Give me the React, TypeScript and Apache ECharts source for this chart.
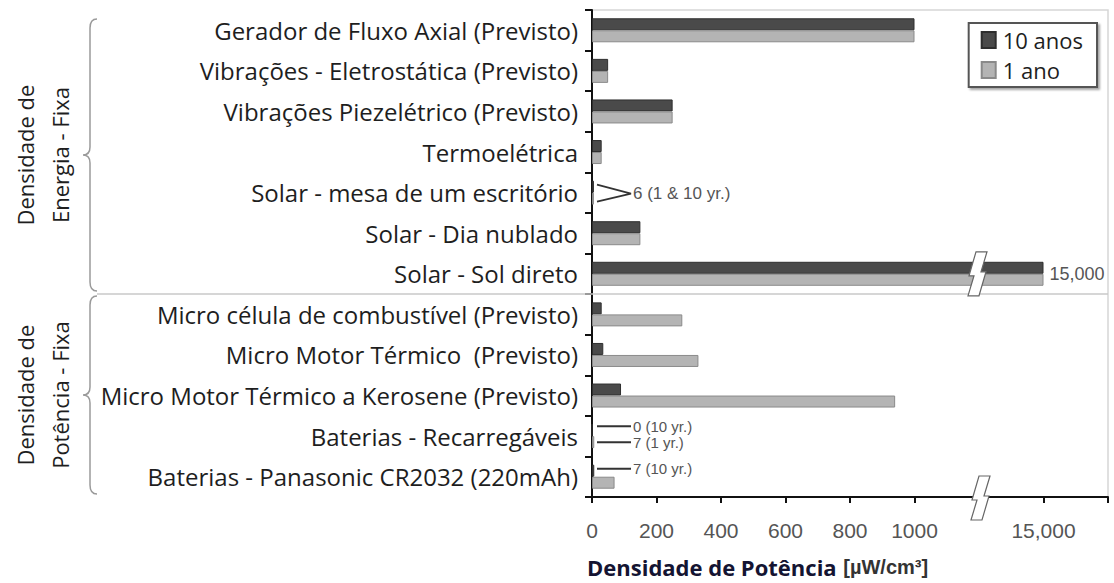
import React, { useEffect, useRef } from "react";
import * as echarts from "echarts";

const categories = [
  "Gerador de Fluxo Axial (Previsto)",
  "Vibrações - Eletrostática (Previsto)",
  "Vibrações Piezelétrico (Previsto)",
  "Termoelétrica",
  "Solar - mesa de um escritório",
  "Solar - Dia nublado",
  "Solar - Sol direto",
  "Micro célula de combustível (Previsto)",
  "Micro Motor Térmico  (Previsto)",
  "Micro Motor Térmico a Kerosene (Previsto)",
  "Baterias - Recarregáveis",
  "Baterias - Panasonic CR2032 (220mAh)",
];
const seriesNames = ["10 anos", "1 ano"];
const tenYears = [1000, 50, 250, 30, 6, 150, 15000, 30, 35, 90, 0, 7];
const oneYear = [1000, 50, 250, 30, 6, 150, 15000, 280, 330, 940, 7, 70];
const tickLabels: Record<number, string> = {
  0: "0", 200: "200", 400: "400", 600: "600", 800: "800", 1000: "1000", 1400: "15,000",
};
const groupLabels = ["Densidade de\nEnergia - Fixa", "Densidade de\nPotência - Fixa"];
const annotations = [
  { cat: 4, kind: "chevron", off: 0, text: "6 (1 & 10 yr.)" },
  { cat: 10, kind: "line", off: -10, text: "0 (10 yr.)" },
  { cat: 10, kind: "line", off: 6, text: "7 (1 yr.)" },
  { cat: 11, kind: "line", off: -8, text: "7 (10 yr.)" },
];
const BREAK_AT = 1200;

// axis break: values above the break are drawn on a compressed segment
const toAxis = (v: number) => (v <= BREAK_AT ? v : 1400 + (v - 15000) / 10);
const fmt = (v: number) => (v >= 10000 ? v.toLocaleString("en-US") : String(v));

const SANS = "'Open Sans', sans-serif";
const ARIAL = "'Liberation Sans', Arial, sans-serif";

export default function App() {
  const ref = useRef<HTMLDivElement>(null);
  useEffect(() => {
    if (!ref.current) return;
    const chart = echarts.init(ref.current, null, { renderer: "svg" });
    const mk = (arr: number[], isTop: boolean) =>
      arr.map((v) => {
        const item: any = { value: toAxis(v), raw: v };
        if (v > BREAK_AT && isTop) {
          item.label = {
            show: true,
            position: "right",
            offset: [0, 6],
            formatter: fmt(v),
            fontFamily: ARIAL,
            fontSize: 18,
            color: "#555",
            distance: 6,
          };
        }
        return item;
      });
    chart.setOption({
      animation: false,
      grid: {
        left: 592, right: 6, top: 10, bottom: 86,
        show: true, borderColor: "#d6d6d6", borderWidth: 1.5,
      },
      legend: {
        data: seriesNames,
        orient: "vertical",
        right: 17,
        top: 23,
        icon: "rect",
        itemWidth: 14,
        itemHeight: 16,
        itemGap: 8,
        padding: [6, 14, 6, 12],
        borderColor: "#555",
        borderWidth: 2,
        backgroundColor: "#fff",
        shadowColor: "rgba(0,0,0,0.35)",
        shadowBlur: 2,
        shadowOffsetX: 2,
        shadowOffsetY: 2,
        textStyle: { fontFamily: SANS, fontSize: 22, color: "#1e1e1e", padding: [0, 0, 0, 2] },
      },
      xAxis: {
        type: "value",
        min: 0,
        max: 1600,
        interval: 200,
        axisLine: { show: true, lineStyle: { color: "#111", width: 2 } },
        axisTick: { show: true, length: 6, lineStyle: { color: "#111", width: 2 } },
        axisLabel: {
          formatter: (v: number) => tickLabels[v] ?? "",
          fontFamily: ARIAL,
          fontSize: 21,
          color: "#555",
          margin: 23,
        },
        splitLine: { show: false },
      },
      yAxis: {
        type: "category",
        data: categories,
        inverse: true,
        axisLine: { show: true, lineStyle: { color: "#111", width: 2 } },
        axisTick: { show: true, length: 7, lineStyle: { color: "#111", width: 2 } },
        axisLabel: { fontFamily: SANS, fontSize: 24, color: "#1e1e1e", margin: 14 },
      },
      series: [
        {
          name: seriesNames[0],
          type: "bar",
          data: mk(tenYears, true),
          barWidth: 12,
          barGap: "0%",
          itemStyle: { color: "#4a4a4a", borderColor: "#2e2e2e", borderWidth: 1 },
        },
        {
          name: seriesNames[1],
          type: "bar",
          data: mk(oneYear, false),
          barWidth: 12,
          barGap: "0%",
          itemStyle: { color: "#b4b4b4", borderColor: "#8a8a8a", borderWidth: 1 },
        },
      ],
    });

    // overlay graphics positioned through the chart's own scales
    const cy = (i: number) => chart.convertToPixel({ yAxisIndex: 0 }, i) as number;
    const cx = (v: number) => chart.convertToPixel({ xAxisIndex: 0 }, v) as number;
    const half = (cy(1) - cy(0)) / 2;
    const plotTop = cy(0) - half;
    const plotBottom = cy(categories.length - 1) + half;
    const sepY = (cy(6) + cy(7)) / 2;
    const x0 = cx(0);
    const xBreak = cx(BREAK_AT);
    const xRight = cx(1600);

    const braceD = (y1: number, y2: number) => {
      const xe = 97, xl = 90, xp = 83;
      const ym = (y1 + y2) / 2;
      return `M${xe} ${y1} Q${xl} ${y1} ${xl} ${y1 + 9} L${xl} ${ym - 8} Q${xl} ${ym} ${xp} ${ym} Q${xl} ${ym} ${xl} ${ym + 8} L${xl} ${y2 - 9} Q${xl} ${y2} ${xe} ${y2}`;
    };
    const braces = [
      [plotTop + 9, sepY - 3],
      [sepY + 2, plotBottom - 3],
    ];
    braces.forEach((b, i) => {
      echarts.graphic.registerShape("brace" + i, echarts.graphic.extendPath(braceD(b[0], b[1]), {}));
    });

    const boltPts = (x: number, y: number) =>
      [
        [-3, -22], [8, -22], [2, -2], [7, -2], [0, 22], [-11, 22], [-5, 2], [-10, 2],
      ].map(([dx, dy]) => [x + dx, y + dy]);

    const graphics: any[] = [];
    graphics.push({
      type: "line",
      z: 1,
      shape: { x1: 97, y1: sepY, x2: xRight, y2: sepY },
      style: { stroke: "#c8c8c8", lineWidth: 1.5 },
    });
    braces.forEach((b, i) => {
      graphics.push({
        type: "brace" + i,
        style: { stroke: "#9a9a9a", lineWidth: 1.5, fill: "none" },
      });
      graphics.push({
        type: "text",
        x: 42,
        y: (b[0] + b[1]) / 2,
        rotation: Math.PI / 2,
        style: {
          text: groupLabels[i],
          font: `22px ${SANS}`,
          fill: "#1e1e1e",
          align: "center",
          verticalAlign: "middle",
          lineHeight: 35,
        },
      });
    });
    // axis-break symbols
    graphics.push({
      type: "polygon",
      z: 100,
      shape: { points: boltPts(xBreak, cy(6)) },
      style: { fill: "#fff", stroke: "#666", lineWidth: 1.2 },
    });
    graphics.push({
      type: "polygon",
      z: 100,
      shape: { points: boltPts(xBreak + 3, plotBottom + 1) },
      style: { fill: "#fff", stroke: "#666", lineWidth: 1.2 },
    });
    // annotations for tiny values
    annotations.forEach((a) => {
      const yc = cy(a.cat);
      const xs = x0 + 5, xe = x0 + 39;
      if (a.kind === "chevron") {
        graphics.push({
          type: "polyline",
          z: 50,
          shape: { points: [[xs, yc - 8], [xe, yc + 1], [xs, yc + 9]] },
          style: { stroke: "#333", lineWidth: 1.8, fill: "none" },
        });
        graphics.push({
          type: "text", z: 50, x: xe + 2, y: yc + 1,
          style: { text: a.text, font: `17px ${ARIAL}`, fill: "#555", verticalAlign: "middle" },
        });
      } else {
        const y = yc + a.off;
        graphics.push({
          type: "line",
          z: 50,
          shape: { x1: xs, y1: y, x2: xe, y2: y },
          style: { stroke: "#333", lineWidth: 2 },
        });
        graphics.push({
          type: "text", z: 50, x: xe + 2, y: y,
          style: { text: a.text, font: `15px ${ARIAL}`, fill: "#555", verticalAlign: "middle" },
        });
      }
    });
    graphics.push({
      type: "text",
      x: 587,
      y: 567,
      style: {
        text: "{a|Densidade de Potência}  {b|[µW/cm³]}",
        verticalAlign: "middle",
        rich: {
          a: { fontFamily: SANS, fontWeight: "bold", fontSize: 22, fill: "#141432", color: "#141432" },
          b: { fontFamily: ARIAL, fontWeight: "bold", fontSize: 20, fill: "#333", color: "#333" },
        },
      },
    });
    chart.setOption({ graphic: graphics });

    return () => chart.dispose();
  }, []);
  return (
    <div
      ref={ref}
      style={{ position: "fixed", left: 0, top: 0, width: 1114, height: 583, background: "#fff" }}
    />
  );
}
